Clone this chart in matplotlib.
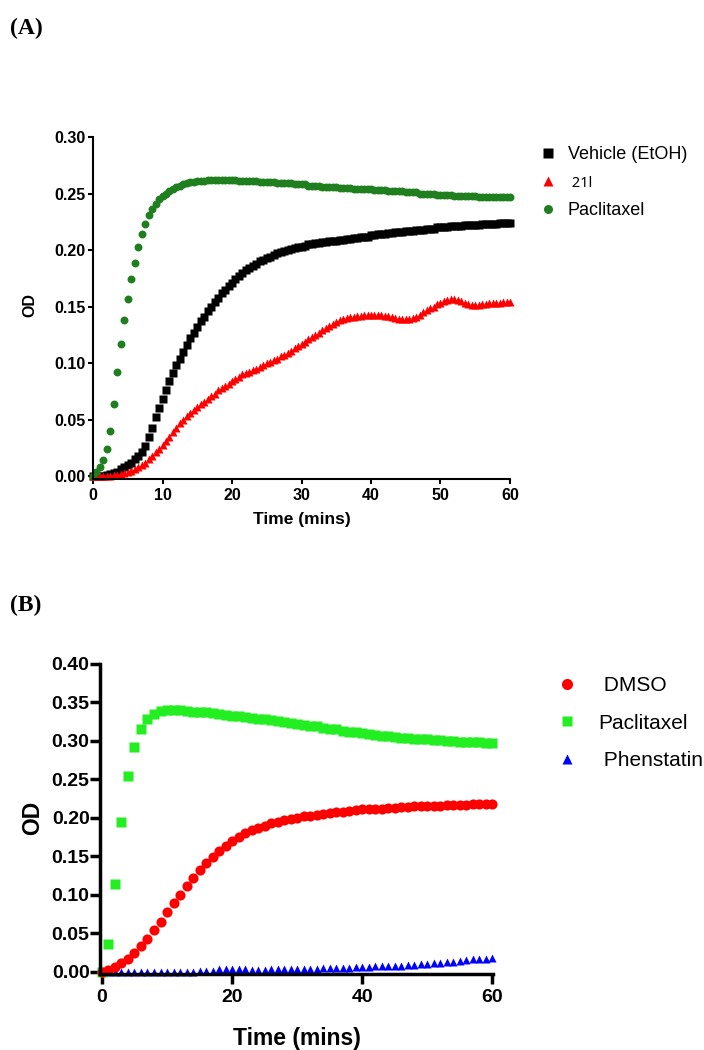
import numpy as np
import matplotlib
matplotlib.use("Agg")
import matplotlib.pyplot as plt
from matplotlib.lines import Line2D

plt.rcParams['font.family'] = ['Liberation Sans', 'DejaVu Sans']

# ---- panel A: readings every 0.5 min ----
time_a = np.arange(0, 60.5, 0.5)

vehicle_a = [
    0.000, 0.000, 0.000, 0.000, 0.001, 0.002, 0.003, 0.004, 0.006, 0.008,
    0.010, 0.012, 0.015, 0.018, 0.021, 0.027, 0.035, 0.043, 0.052, 0.060,
    0.068, 0.076, 0.084, 0.091, 0.098, 0.104, 0.110, 0.116, 0.122, 0.127,
    0.132, 0.137, 0.141, 0.146, 0.150, 0.154, 0.158, 0.162, 0.165, 0.168,
    0.171, 0.174, 0.177, 0.180, 0.182, 0.184, 0.186, 0.188, 0.190, 0.191,
    0.193, 0.194, 0.196, 0.197, 0.198, 0.199, 0.200, 0.201, 0.202, 0.203,
    0.203, 0.204, 0.205, 0.205, 0.206, 0.206, 0.207, 0.207, 0.208, 0.208,
    0.208, 0.209, 0.209, 0.210, 0.210, 0.211, 0.211, 0.212, 0.212, 0.212,
    0.213, 0.213, 0.214, 0.214, 0.214, 0.215, 0.215, 0.216, 0.216, 0.216,
    0.217, 0.217, 0.217, 0.218, 0.218, 0.218, 0.219, 0.219, 0.219, 0.220,
    0.220, 0.220, 0.220, 0.221, 0.221, 0.221, 0.221, 0.222, 0.222, 0.222,
    0.222, 0.222, 0.223, 0.223, 0.223, 0.223, 0.223, 0.224, 0.224, 0.224,
    0.224]

cpd_21l_a = [
    0.000, 0.000, 0.000, 0.000, 0.000, 0.000, 0.001, 0.001, 0.002, 0.003,
    0.004, 0.005, 0.006, 0.008, 0.010, 0.012, 0.015, 0.018, 0.021, 0.024,
    0.028, 0.031, 0.035, 0.039, 0.043, 0.047, 0.050, 0.053, 0.056, 0.059,
    0.061, 0.064, 0.066, 0.068, 0.071, 0.073, 0.076, 0.078, 0.080, 0.082,
    0.084, 0.086, 0.088, 0.090, 0.091, 0.092, 0.094, 0.095, 0.097, 0.098,
    0.100, 0.101, 0.103, 0.104, 0.106, 0.107, 0.109, 0.111, 0.113, 0.115,
    0.117, 0.119, 0.121, 0.123, 0.125, 0.127, 0.129, 0.131, 0.133, 0.135,
    0.136, 0.138, 0.139, 0.140, 0.141, 0.141, 0.142, 0.142, 0.143, 0.143,
    0.143, 0.143, 0.143, 0.143, 0.142, 0.142, 0.141, 0.140, 0.139, 0.139,
    0.139, 0.139, 0.140, 0.141, 0.143, 0.145, 0.147, 0.149, 0.150, 0.152,
    0.153, 0.155, 0.156, 0.157, 0.157, 0.156, 0.155, 0.153, 0.152, 0.151,
    0.151, 0.151, 0.152, 0.152, 0.153, 0.153, 0.153, 0.153, 0.154, 0.154,
    0.154]

paclitaxel_a = [
    0.000, 0.004, 0.008, 0.014, 0.024, 0.040, 0.064, 0.092, 0.117, 0.138,
    0.157, 0.174, 0.189, 0.203, 0.214, 0.223, 0.231, 0.236, 0.241, 0.245,
    0.248, 0.250, 0.252, 0.254, 0.256, 0.257, 0.258, 0.259, 0.260, 0.260,
    0.261, 0.261, 0.261, 0.262, 0.262, 0.262, 0.262, 0.262, 0.262, 0.262,
    0.262, 0.262, 0.261, 0.261, 0.261, 0.261, 0.261, 0.261, 0.260, 0.260,
    0.260, 0.260, 0.260, 0.259, 0.259, 0.259, 0.259, 0.259, 0.258, 0.258,
    0.258, 0.258, 0.257, 0.257, 0.257, 0.257, 0.256, 0.256, 0.256, 0.256,
    0.256, 0.255, 0.255, 0.255, 0.255, 0.254, 0.254, 0.254, 0.254, 0.254,
    0.254, 0.253, 0.253, 0.253, 0.253, 0.252, 0.252, 0.252, 0.252, 0.252,
    0.251, 0.251, 0.251, 0.251, 0.250, 0.250, 0.250, 0.250, 0.250, 0.249,
    0.249, 0.249, 0.249, 0.249, 0.248, 0.248, 0.248, 0.248, 0.248, 0.248,
    0.248, 0.247, 0.247, 0.247, 0.247, 0.247, 0.247, 0.247, 0.247, 0.247,
    0.247]

# ---- panel B: readings every 1 min ----
time_b = np.arange(0, 61, 1)

dmso_b = [
    0.000, 0.002, 0.006, 0.011, 0.017, 0.024, 0.033, 0.043, 0.054, 0.065,
    0.077, 0.089, 0.100, 0.111, 0.122, 0.132, 0.141, 0.149, 0.157, 0.164,
    0.170, 0.175, 0.180, 0.184, 0.187, 0.190, 0.193, 0.195, 0.197, 0.199,
    0.200, 0.202, 0.203, 0.204, 0.205, 0.206, 0.207, 0.208, 0.209, 0.210,
    0.211, 0.211, 0.212, 0.212, 0.213, 0.213, 0.214, 0.214, 0.215, 0.215,
    0.216, 0.216, 0.216, 0.217, 0.217, 0.217, 0.217, 0.218, 0.218, 0.218,
    0.218]

paclitaxel_b = [
    0.000, 0.036, 0.114, 0.195, 0.254, 0.292, 0.315, 0.328, 0.335, 0.339,
    0.340, 0.340, 0.340, 0.339, 0.338, 0.338, 0.337, 0.336, 0.335, 0.334,
    0.333, 0.332, 0.331, 0.330, 0.329, 0.328, 0.327, 0.326, 0.325, 0.323,
    0.322, 0.321, 0.320, 0.319, 0.317, 0.316, 0.315, 0.313, 0.312, 0.311,
    0.310, 0.309, 0.308, 0.307, 0.306, 0.305, 0.304, 0.304, 0.303, 0.302,
    0.302, 0.301, 0.301, 0.300, 0.300, 0.299, 0.299, 0.298, 0.298, 0.297,
    0.297]

phenstatin_b = [
    0.000, 0.000, 0.000, 0.000, 0.000, 0.000, 0.000, 0.000, 0.000, 0.000,
    0.000, 0.000, 0.000, 0.000, 0.000, 0.001, 0.001, 0.001, 0.003, 0.003,
    0.003, 0.003, 0.003, 0.002, 0.002, 0.002, 0.003, 0.003, 0.003, 0.003,
    0.004, 0.004, 0.004, 0.004, 0.005, 0.005, 0.005, 0.005, 0.005, 0.006,
    0.006, 0.006, 0.007, 0.007, 0.008, 0.008, 0.008, 0.009, 0.009, 0.010,
    0.010, 0.011, 0.011, 0.012, 0.013, 0.014, 0.015, 0.016, 0.017, 0.017,
    0.018]

W, H = 704, 1050
fig = plt.figure(figsize=(W / 100, H / 100), dpi=100)


def axes_px(left, top, right, bottom):
    return fig.add_axes([left / W, 1 - bottom / H, (right - left) / W, (bottom - top) / H])


def style_axes(ax, lw, tick_len, tick_size):
    for s in ['top', 'right']:
        ax.spines[s].set_visible(False)
    for s in ['left', 'bottom']:
        ax.spines[s].set_linewidth(lw)
    ax.tick_params(direction='out', length=tick_len, width=lw, labelsize=tick_size, pad=2)
    for lab in ax.get_xticklabels() + ax.get_yticklabels():
        lab.set_fontweight('bold')


# ---- (A) ----
green_a = '#1f7f1f'
axA = axes_px(93, 137, 510, 478.5)
axA.plot(time_a, vehicle_a, 's', color='black', ms=6.0, mec='none', clip_on=False)
axA.plot(time_a, cpd_21l_a, '^', color='#ff0000', ms=6.2, mec='none', clip_on=False)
axA.plot(time_a, paclitaxel_a, 'o', color=green_a, ms=5.7, mec='none', clip_on=False)
axA.set_xlim(0, 60)
axA.set_ylim(-0.002, 0.30)
axA.set_xticks(np.arange(0, 61, 10))
axA.set_yticks(np.arange(0, 0.301, 0.05))
axA.yaxis.set_major_formatter(matplotlib.ticker.FormatStrFormatter('%.2f'))
style_axes(axA, 1.5, 3.6, 11.5)
axA.tick_params(axis='x', pad=3.5)
axA.tick_params(axis='y', pad=1.5)
axA.set_xlabel('Time (mins)', fontsize=12.5, fontweight='bold')
axA.set_ylabel('OD', fontsize=11.5, fontweight='bold')
axA.xaxis.set_label_coords(0.501, -0.1215)
axA.yaxis.set_label_coords(-0.151, 0.508)
axA.xaxis.label.set_verticalalignment('center')
axA.yaxis.label.set_verticalalignment('center')

handles_a = [
    Line2D([], [], ls='none', marker='s', color='black', ms=6.5, mec='none'),
    Line2D([], [], ls='none', marker='^', color='#ff0000', ms=6.5, mec='none'),
    Line2D([], [], ls='none', marker='o', color=green_a, ms=6.5, mec='none'),
]
legA = fig.legend(handles_a, ['Vehicle (EtOH)', ' 21l', 'Paclitaxel'],
                  loc='upper left', bbox_to_anchor=(539 / W, 1 - 146 / H),
                  frameon=False, fontsize=13, borderpad=0, borderaxespad=0,
                  handlelength=1.0, handletextpad=0.6, labelspacing=0.62)
t21 = legA.get_texts()[1]
t21.set_fontfamily(['Noto Sans', 'DejaVu Sans'])
t21.set_fontweight('bold')
t21.set_fontsize(10.5)

fig.text(10 / W, 1 - 28 / H, '(A)', family='Liberation Serif', fontweight='bold',
         fontsize=17, ha='left', va='center')

# ---- (B) ----
axB = axes_px(100, 664, 493, 974)
axB.plot(time_b, phenstatin_b, '^', color='#0000ff', ms=6.4, mec='none', clip_on=False)
axB.plot(time_b, paclitaxel_b, 's', color='#22ee22', ms=7.0, mec='none', clip_on=False)
axB.plot(time_b, dmso_b, 'o', color='#ff0000', ms=7.3, mec='none', clip_on=False)
axB.set_xlim(-0.3, 60.1)
axB.set_ylim(-0.003, 0.40)
axB.set_xticks([0, 20, 40, 60])
axB.set_yticks(np.arange(0, 0.401, 0.05))
axB.yaxis.set_major_formatter(matplotlib.ticker.FormatStrFormatter('%.2f'))
style_axes(axB, 2.5, 7, 14)
axB.tick_params(axis='x', pad=4)
axB.tick_params(axis='y', pad=0.5)
axB.set_xlabel('Time (mins)', fontsize=16.5, fontweight='bold')
axB.set_ylabel('OD', fontsize=16.5, fontweight='bold')
axB.xaxis.set_label_coords(0.501, -0.208)
axB.yaxis.set_label_coords(-0.1705, 0.503)
axB.xaxis.label.set_verticalalignment('center')
axB.yaxis.label.set_verticalalignment('center')

handles_b = [
    Line2D([], [], ls='none', marker='o', color='#ff0000', ms=8, mec='none'),
    Line2D([], [], ls='none', marker='s', color='#22ee22', ms=7.5, mec='none'),
    Line2D([], [], ls='none', marker='^', color='#0000ff', ms=6.5, mec='none'),
]
fig.legend(handles_b, [' DMSO', 'Paclitaxel', ' Phenstatin'],
           loc='upper left', bbox_to_anchor=(556.5 / W, 1 - 676 / H),
           frameon=False, fontsize=15, borderpad=0, borderaxespad=0,
           handlelength=1.0, handletextpad=1.0, labelspacing=0.9)

fig.text(10 / W, 1 - 605 / H, '(B)', family='Liberation Serif', fontweight='bold',
         fontsize=17, ha='left', va='center')

fig.savefig('out.png', dpi=100)
